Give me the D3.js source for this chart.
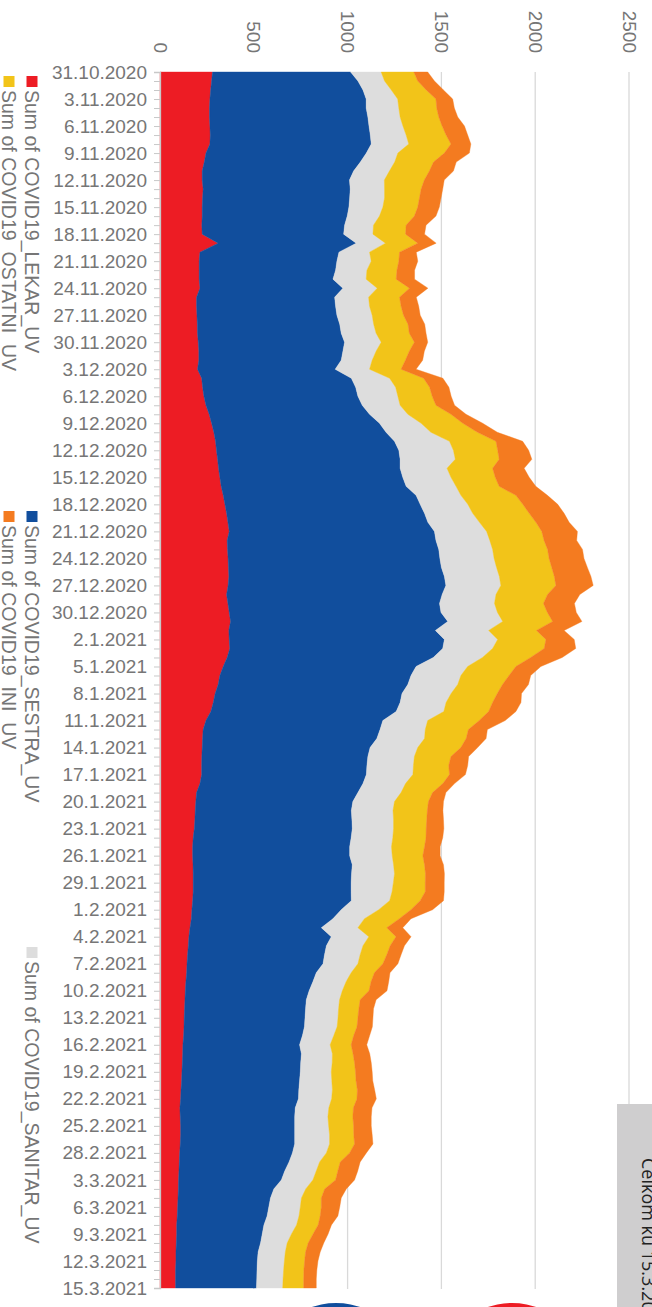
<!DOCTYPE html>
<html><head><meta charset="utf-8">
<script src="https://cdn.jsdelivr.net/npm/d3@7/dist/d3.min.js"></script>
<style>body{margin:0;background:#fff;overflow:hidden}svg{display:block}</style>
</head><body>
<svg id="c" width="652" height="1307"></svg>
<script>
// ---- data ----
const seriesKeys = ["LEKAR", "SESTRA", "SANITAR", "OSTATNI", "INI"];
const seriesLabels = ["Sum of COVID19_LEKAR_UV", "Sum of COVID19_SESTRA_UV", "Sum of COVID19_SANITAR_UV", "Sum of COVID19_OSTATNI_UV", "Sum of COVID19_INI_UV"];
const seriesColors = ["#ED1C24", "#114E9D", "#DDDDDD", "#F2C419", "#F47B20"];
const valueTicks = [0, 500, 1000, 1500, 2000, 2500];

const lekar = [280,275,270,266,264,264,266,268,266,245,
236,225,225,230,227,225,225,223,225,310,
213,209,209,209,213,195,195,197,199,200,
204,207,207,200,222,227,234,245,262,275,
287,296,301,307,312,319,326,337,346,355,
362,369,358,360,363,365,367,363,355,362,
369,376,367,369,372,358,337,319,310,294,
284,271,245,230,227,225,223,222,222,213,
195,191,188,186,183,177,174,174,176,177,
177,177,174,170,167,160,154,151,147,144,
142,138,135,133,131,129,128,126,122,121,
119,117,115,112,110,106,108,110,110,108,
105,103,101,99,98,96,94,92,89,89,
87,85,85,83,83,83];
const sestra = [736,780,812,833,835,844,848,853,860,855,
832,807,785,784,784,782,773,761,754,736,
741,734,727,713,762,736,741,746,759,766,
780,768,759,734,798,816,821,833,855,895,
918,954,972,973,968,975,986,1028,1041,1055,
1066,1094,1113,1126,1129,1135,1149,1161,1149,1128,
1129,1158,1101,1147,1135,1099,1028,1019,1011,996,
996,988,943,943,929,895,885,881,878,869,
860,837,832,837,842,842,837,837,849,844,
842,842,846,796,755,700,759,736,730,725,
691,677,660,647,645,644,642,633,622,633,
631,631,629,628,628,615,610,608,608,610,
601,585,564,548,509,493,486,479,465,456,
449,438,434,434,433,431];
const sanitar = [163,142,151,168,174,172,181,191,200,168,
183,191,186,183,186,181,172,154,156,156,
163,183,167,177,183,181,181,188,181,186,
195,177,165,183,204,213,213,202,204,222,
239,293,291,294,250,257,266,239,254,257,
275,278,287,287,289,294,293,293,287,293,
301,293,284,284,266,262,275,266,266,262,
245,254,239,241,254,254,248,248,248,227,
230,222,222,222,220,222,223,227,220,229,
225,218,204,200,168,195,200,195,190,186,
186,177,177,177,176,176,174,167,163,165,
168,165,172,179,177,179,177,181,186,186,
181,163,168,168,170,165,168,170,174,156,
142,145,144,142,140,140];
const ostatni = [174,177,186,204,202,206,209,213,225,248,
207,213,213,195,186,186,186,174,174,172,
160,147,160,160,172,165,168,167,183,177,
177,177,177,168,181,181,183,191,230,222,
248,248,236,234,243,236,230,293,293,301,
301,294,289,293,293,294,293,293,275,261,
266,266,255,257,275,257,257,257,239,246,
248,239,275,230,222,230,195,188,195,199,
168,181,183,177,174,177,176,163,165,165,
170,177,163,172,186,154,145,145,142,133,
124,133,142,110,108,106,106,106,112,110,
119,129,129,133,135,131,133,133,129,133,
124,110,115,121,101,106,112,113,115,115,
112,108,108,108,110,112];
const ini = [74,89,92,89,94,101,119,115,106,133,
121,128,106,115,115,115,115,106,101,98,
89,101,94,98,98,89,94,89,89,89,
71,80,92,80,103,103,101,99,80,106,
106,142,165,174,168,181,195,168,186,186,
177,190,174,186,186,190,195,199,172,165,
154,156,147,151,168,168,133,115,138,129,
151,145,138,101,106,89,94,101,85,62,
71,80,83,89,94,89,83,92,101,101,
101,101,124,115,62,85,80,76,76,80,
83,94,96,85,78,80,82,85,83,89,
89,89,89,92,103,99,98,94,98,98,
89,106,106,101,115,106,98,94,71,80,
83,78,71,69,67,67];
const seriesValues = [lekar, sestra, sanitar, ostatni, ini];
const noteText = "Celkom ku 15.3.2021";

// ---- build ----
const dates = d3.utcDay.range(new Date(Date.UTC(2020, 9, 31)), new Date(Date.UTC(2021, 2, 16)));
const rows = dates.map((d, i) => {
  const r = { date: d };
  seriesKeys.forEach((k, j) => r[k] = seriesValues[j][i]);
  return r;
});
const stacked = d3.stack().keys(seriesKeys)(rows);

const svg = d3.select("#c");
const FONT = "'Liberation Sans', Arial, sans-serif";
const TXT = "#767676";

const x = d3.scaleLinear().domain([0, 2500]).range([160, 629]);
const y = d3.scaleUtc().domain([dates[0], dates[dates.length - 1]]).range([72, 1288]);
const plotTop = 72, plotBottom = 1289;

// gridlines
svg.append("g").selectAll("line").data(valueTicks.filter(v => v > 0)).join("line")
  .attr("x1", d => x(d)).attr("x2", d => x(d))
  .attr("y1", plotTop).attr("y2", plotBottom)
  .attr("stroke", "#d9d9d9").attr("stroke-width", 1.3);

// areas
const area = d3.area()
  .y(d => y(d.data.date))
  .x0(d => x(d[0]))
  .x1(d => x(d[1]));
svg.append("g").selectAll("path").data(stacked).join("path")
  .attr("d", area)
  .attr("fill", (d, i) => seriesColors[i])
  .attr("stroke", (d, i) => seriesColors[i])
  .attr("stroke-width", 0.4);

// date axis
const fmt = d => `${d.getUTCDate()}.${d.getUTCMonth() + 1}.${d.getUTCFullYear()}`;
const yAxis = d3.axisLeft(y).tickValues(dates).tickSize(6).tickPadding(7)
  .tickFormat((d, i) => i % 3 === 0 ? fmt(d) : "");
const ga = svg.append("g").attr("transform", "translate(160,0)").call(yAxis);
ga.select(".domain").attr("stroke", "#c8c8c8").attr("stroke-width", 1.3);
ga.selectAll(".tick line").attr("stroke", "#c8c8c8");
ga.selectAll(".tick text").attr("fill", TXT).attr("font-family", FONT).attr("font-size", 19);

// value axis labels (rotated)
svg.append("g").selectAll("text").data(valueTicks).join("text")
  .attr("transform", d => `translate(${x(d)},53) rotate(90)`)
  .attr("text-anchor", "end").attr("dominant-baseline", "central")
  .attr("fill", TXT).attr("font-family", FONT).attr("font-size", 19)
  .text(d => d);

// legend (rotated)
const legendPos = { LEKAR: [32, 76], OSTATNI: [9, 76], SESTRA: [32, 511], INI: [9, 511], SANITAR: [32, 947] };
seriesKeys.forEach((k, i) => {
  const [cx, cy] = legendPos[k];
  svg.append("rect").attr("x", cx - 5.5).attr("y", cy).attr("width", 11).attr("height", 11)
    .attr("fill", seriesColors[i]);
  svg.append("text").attr("transform", `translate(${cx},${cy + 14}) rotate(90)`)
    .attr("dominant-baseline", "central")
    .attr("fill", TXT).attr("font-family", FONT).attr("font-size", 19.5)
    .text(seriesLabels[i]);
});

// side note box
svg.append("rect").attr("x", 617).attr("y", 1104).attr("width", 40).attr("height", 210).attr("fill", "#cfcecf");
svg.append("text").attr("transform", "translate(642,1158) rotate(90)")
  .attr("fill", "#222").attr("font-family", "'Open Sans', 'DejaVu Sans', sans-serif").attr("font-size", 18)
  .text(noteText);

// bottom circles
svg.append("circle").attr("cx", 336).attr("cy", 1378).attr("r", 75).attr("fill", "#114E9D");
svg.append("circle").attr("cx", 512).attr("cy", 1378).attr("r", 75).attr("fill", "#ED1C24");
</script>
</body></html>
